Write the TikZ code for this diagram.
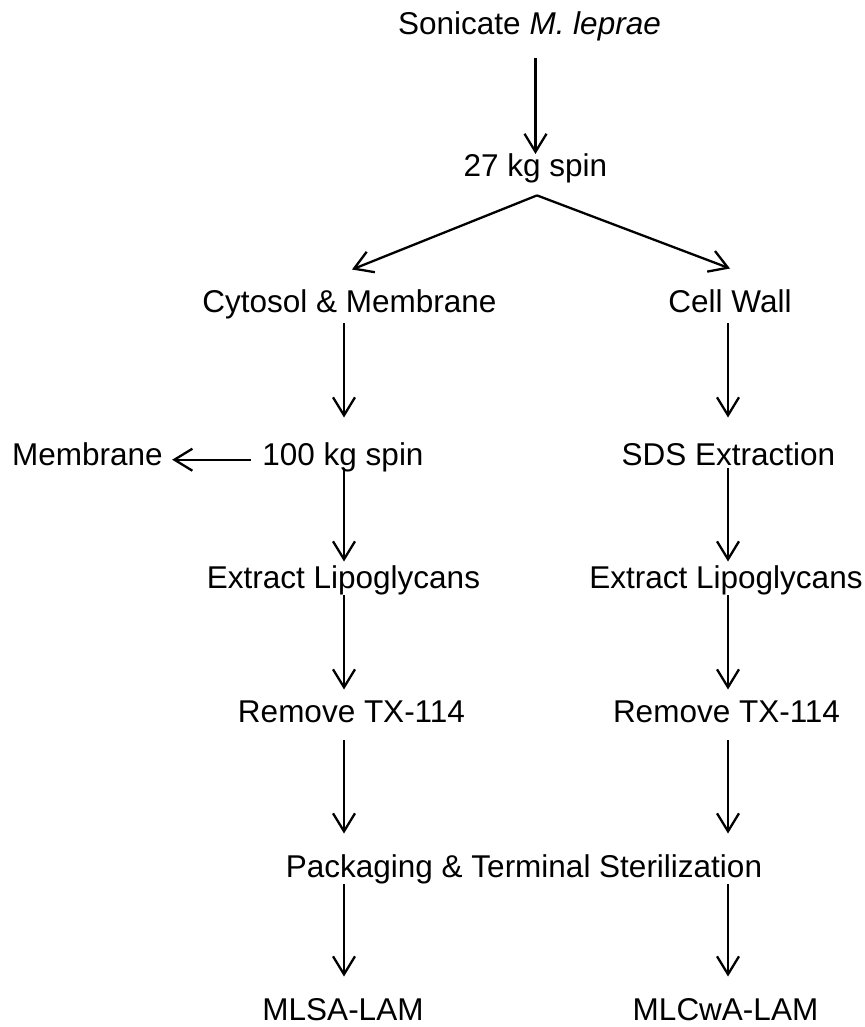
\documentclass[tikz,border=0pt]{standalone}
\usepackage{fontspec}
\setmainfont{Liberation Sans}
\usetikzlibrary{positioning, arrows.meta, calc}

\begin{document}
\begin{tikzpicture}[
  x=0.5pt, y=-0.5pt,
  stage/.style={inner sep=0pt, anchor=base, text height=11.3pt, text depth=3.3pt, font=\fontsize{15.75}{19}\selectfont},
  flow/.style={draw, line width=1.15pt, -{Straight Barb[length=9pt, width=11pt]}},
]
  \useasboundingbox (0,0) rectangle (865,1027);

  \node[stage] (sonic) at (529.5,35) {Sonicate \textit{M. leprae}};
  \node[stage] (spin27) at (535.5,177) {27 kg spin};
  \node[stage] (cyto) at (349.5,312) {Cytosol \& Membrane};
  \node[stage] (wall) at (730,312) {Cell Wall};
  \node[stage] (spin100) at (343,465) {100 kg spin};
  \node[stage] (memb) at (87.5,465) {Membrane};
  \node[stage] (sds) at (728.5,465) {SDS Extraction};
  \node[stage] (extL) at (343.5,588) {Extract Lipoglycans};
  \node[stage] (extR) at (726,588) {Extract Lipoglycans};
  \node[stage] (remL) at (351.5,722) {Remove TX-114};
  \node[stage] (remR) at (726.5,722) {Remove TX-114};
  \node[stage] (pack) at (524,877) {Packaging \& Terminal Sterilization};
  \node[stage] (mlsa) at (343,1020) {MLSA-LAM};
  \node[stage] (mlcwa) at (725.5,1020) {MLCwA-LAM};

  \coordinate (colL) at (344,0);
  \coordinate (colR) at (728,0);

  \draw[flow, shorten <=8.2pt] (sonic.south -| spin27.north) -- (spin27.north);
  \draw[flow] ($(spin27.south)+(1.5,11.4)$) -- ($(cyto.north)+(2.5,-19.5)$);
  \draw[flow] ($(spin27.south)+(1.5,11.4)$) -- ($(wall.north)+(0,-20.5)$);

  \draw[flow, shorten <=2.2pt, shorten >=12.25pt] (cyto.south -| colL) -- (spin100.north -| colL);
  \draw[flow, shorten <=2.2pt, shorten >=12.25pt] (wall.south -| colR) -- (sds.north -| colR);
  \draw[flow, shorten <=5.5pt, shorten >=4.5pt] (spin100.mid west) -- (memb.mid east);

  \draw[flow, shorten <=-1.8pt, shorten >=1.75pt] (spin100.south -| colL) -- (extL.north -| colL);
  \draw[flow, shorten <=-1.8pt, shorten >=1.75pt] (sds.south -| colR) -- (extR.north -| colR);
  \draw[flow, shorten >=4.75pt] (extL.south -| colL) -- (remL.north -| colL);
  \draw[flow, shorten >=4.75pt] (extR.south -| colR) -- (remR.north -| colR);
  \draw[flow, shorten <=5.7pt, shorten >=10.25pt] (remL.south -| colL) -- (pack.north -| colL);
  \draw[flow, shorten <=5.7pt, shorten >=10.25pt] (remR.south -| colR) -- (pack.north -| colR);
  \draw[flow, shorten >=10.25pt] (pack.south -| colL) -- (mlsa.north -| colL);
  \draw[flow, shorten >=10.25pt] (pack.south -| colR) -- (mlcwa.north -| colR);
\end{tikzpicture}
\end{document}
